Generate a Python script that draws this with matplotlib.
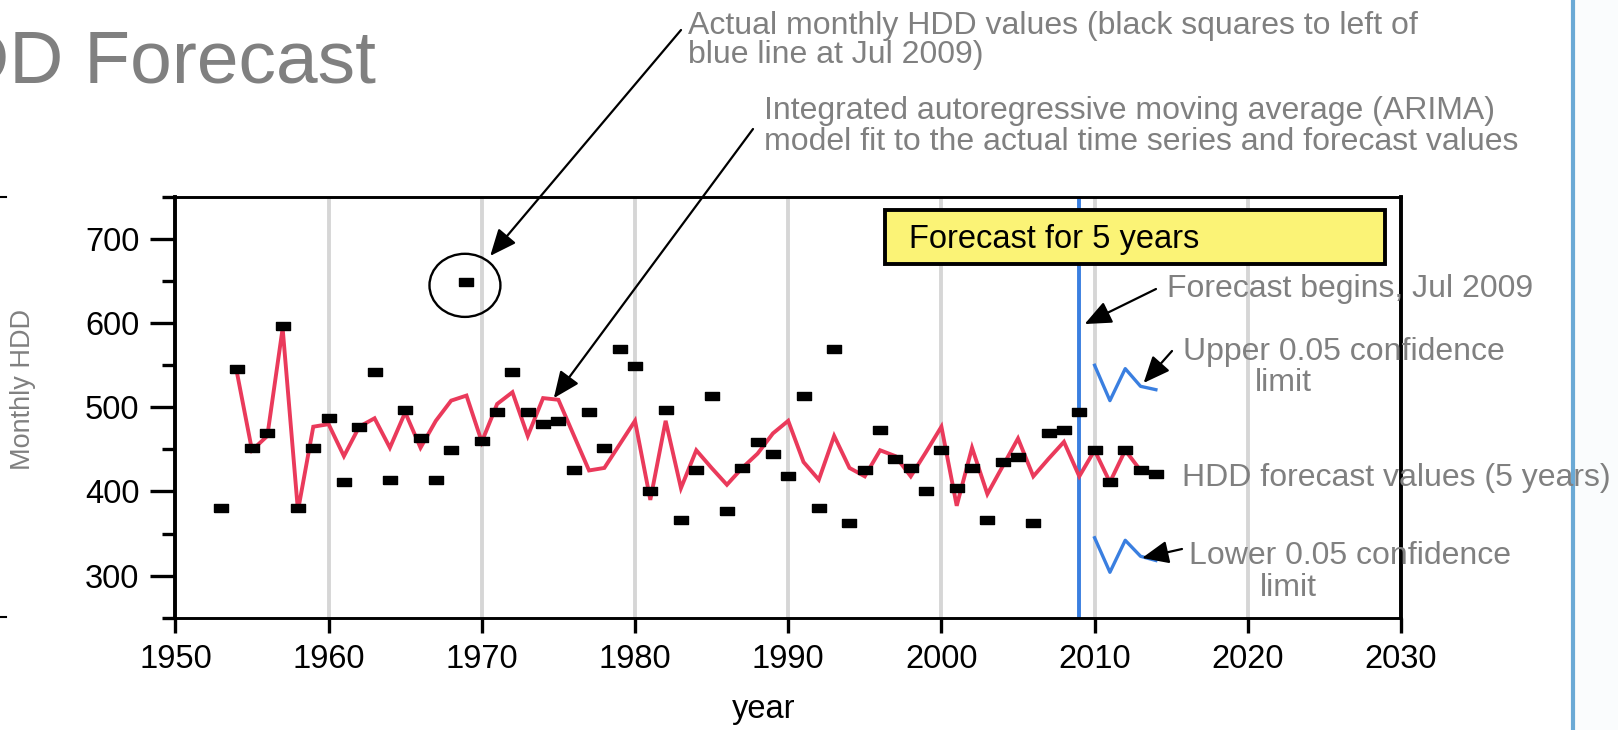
import matplotlib
matplotlib.use("Agg")
import matplotlib.pyplot as plt
from matplotlib.patches import Ellipse, Rectangle
from matplotlib.lines import Line2D
from matplotlib.ticker import FixedLocator

plt.rcParams['font.family'] = ['Liberation Sans', 'DejaVu Sans']

# ---- data -------------------------------------------------------------
obs_years = list(range(1953, 2010))
obs_hdd = [380, 545, 452, 470, 597, 380, 452, 487, 411, 477,
           542, 414, 497, 463, 414, 449, 649, 460, 494, 542,
           494, 480, 484, 425, 494, 452, 569, 549, 400, 497,
           366, 425, 514, 377, 428, 459, 445, 418, 514, 380,
           569, 363, 425, 473, 439, 428, 400, 449, 404, 428,
           366, 435, 441, 363, 470, 473, 494]

fit_years = list(range(1954, 2010))
fit_hdd = [543, 449, 466, 594, 377, 477, 480, 442, 477, 487,
           452, 494, 452, 484, 508, 514, 459, 504, 518, 466,
           511, 509, 467, 425, 428, 456, 484, 390, 484, 404,
           449, 428, 408, 428, 445, 469, 484, 435, 414, 466,
           428, 418, 449, 442, 418, 447, 477, 383, 452, 397,
           430, 463, 418, 439, 459, 418]

fc_years = [2010, 2011, 2012, 2013, 2014]
fc_hdd = [449, 411, 449, 425, 421]
fc_upper = [550, 508, 546, 525, 521]
fc_lower = [345, 304, 342, 323, 318]

forecast_start = 2009
x_ticks = [1950, 1960, 1970, 1980, 1990, 2000, 2010, 2020, 2030]
y_ticks = [300, 400, 500, 600, 700]
y_minor = [250, 350, 450, 550, 650, 750]

# ---- figure layout (pixel helpers) -------------------------------------
W, H = 1618, 730
fig = plt.figure(figsize=(W / 100, H / 100), dpi=100)
fig.patch.set_facecolor('white')


def fx(px):
    return px / W


def fy(py):
    return 1 - py / H


GRAY = '#808080'
RED = '#ea3a5b'
BLUE = '#3a7fe0'

# slide decoration on the right
fig.add_artist(Rectangle((fx(1573), 0), 1 - fx(1573), 1, transform=fig.transFigure,
                         facecolor='#fafcfd', edgecolor='none', zorder=0))
fig.add_artist(Line2D([fx(1573), fx(1573)], [0, 1], transform=fig.transFigure,
                      color='#6aa9d5', lw=3, zorder=1))
for yy in (197, 617):
    fig.add_artist(Line2D([0, fx(6)], [fy(yy), fy(yy)], transform=fig.transFigure,
                          color='black', lw=1.5))

ax = fig.add_axes([fx(175.4), fy(617.7), (1401 - 175.4) / W, (617.7 - 197) / H])
ax.set_xlim(1950, 2030)
ax.set_ylim(250, 750)

ax.set_xticks(x_ticks)
ax.set_yticks(y_ticks)
ax.yaxis.set_minor_locator(FixedLocator(y_minor))
ax.tick_params(axis='x', direction='out', length=11, width=2.4, labelsize=23.5, pad=8)
ax.tick_params(axis='y', which='major', direction='out', length=18, width=2.4,
               labelsize=23.5, pad=8)
ax.tick_params(axis='y', which='minor', direction='out', length=9.5, width=2.4)
ax.grid(axis='x', color='#d6d6d6', lw=2.8, zorder=0)
ax.set_axisbelow(True)
for side in ('left', 'right'):
    ax.spines[side].set_linewidth(2.8)
for side in ('top', 'bottom'):
    ax.spines[side].set_linewidth(2.1)

# ---- marks ---------------------------------------------------------------
rect = [(-1, -0.6), (1, -0.6), (1, 0.6), (-1, 0.6), (-1, -0.6)]

ax.axvline(forecast_start, color=BLUE, lw=2.8, zorder=2)
ax.plot(fit_years + fc_years, fit_hdd + fc_hdd, color=RED, lw=2.8, zorder=3,
        solid_joinstyle='miter')
ax.plot(fc_years, fc_upper, color=BLUE, lw=2.4, zorder=3)
ax.plot(fc_years, fc_lower, color=BLUE, lw=2.4, zorder=3)
ax.plot(obs_years, obs_hdd, ls='none', marker=rect, ms=9.6, color='black', zorder=4)
ax.plot(fc_years, fc_hdd, ls='none', marker=rect, ms=9.6, color='black', zorder=4)

# highlight of the highest observation
peak_i = obs_hdd.index(max(obs_hdd))
peak_x, peak_y = obs_years[peak_i], obs_hdd[peak_i]
ax.add_patch(Ellipse((peak_x - 0.1, peak_y - 4), 4.63, 75, fill=False,
                     lw=1.7, color='black', zorder=5, clip_on=False))

# forecast box
ax.add_patch(Rectangle((0.579, 0.841), 0.408, 0.128, transform=ax.transAxes,
                       facecolor='#fbf376', edgecolor='black', lw=2.8, zorder=6))
ax.text(0.5986, 0.899, 'Forecast for 5 years', transform=ax.transAxes,
        ha='left', va='center', size=23.5, color='black', zorder=7)

# ---- text & arrows --------------------------------------------------------
arrow = dict(arrowstyle='-|>,head_length=0.65,head_width=0.28', color='black',
             lw=1.6, shrinkA=0, shrinkB=0, mutation_scale=25)


def arrow_to(xy, tail_px):
    ax.annotate('', xy=xy, xycoords='data',
                xytext=(fx(tail_px[0]), fy(tail_px[1])), textcoords='figure fraction',
                arrowprops=arrow, annotation_clip=False)


fit_1975 = fit_hdd[fit_years.index(1975)]
arrow_to((peak_x + 1.55, peak_y + 31), (681, 30))
arrow_to((1974.7, fit_1975 + 2), (753, 129))
arrow_to((forecast_start + 0.35, 599), (1156, 289))
arrow_to((2013.2, fc_upper[3] + 4), (1172, 351))
arrow_to((2013.1, fc_lower[3] - 2), (1182, 549))


def label(px, py, s, ha='left', size=23, color=GRAY, **kw):
    fig.text(fx(px), fy(py), s, ha=ha, va='baseline', size=size, color=color, **kw)


label(376, 82.7, 'HDD Forecast', ha='right', size=54)
label(688, 34, 'Actual monthly HDD values (black squares to left of')
label(688, 63, 'blue line at Jul 2009)')
label(763.6, 119, 'Integrated autoregressive moving average (ARIMA)')
label(763.6, 150, 'model fit to the actual time series and forecast values')
label(1166.7, 297, 'Forecast begins, Jul 2009')
label(1183.3, 360, 'Upper 0.05 confidence')
label(1283, 391, 'limit', ha='center')
label(1181.7, 486, 'HDD forecast values (5 years)')
label(1189, 564, 'Lower 0.05 confidence')
label(1288.3, 596, 'limit', ha='center')

fig.text(fx(23), fy(390), 'Monthly HDD', rotation=90, ha='center', va='center',
         size=19.5, color=GRAY)
label(763.6, 718, 'year', ha='center', color='black', size=23.5)

fig.savefig('out.png', dpi=100)
